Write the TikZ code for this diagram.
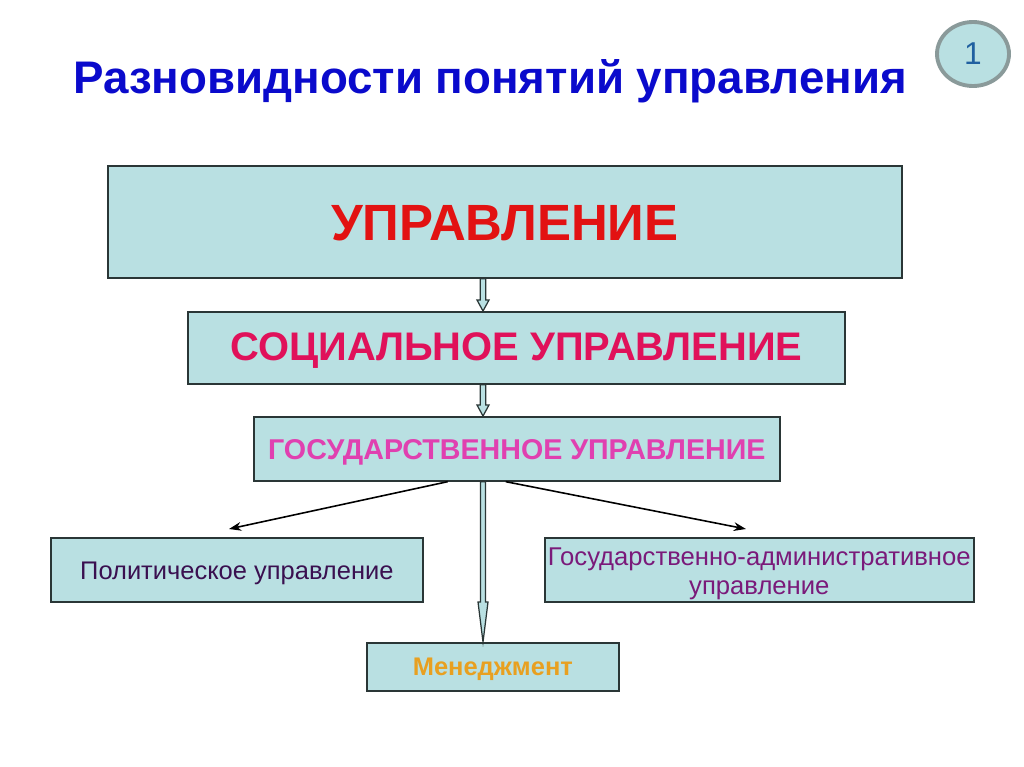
\documentclass[tikz,border=0pt]{standalone}
\usepackage{fontspec}
\setmainfont{Liberation Sans}
\usetikzlibrary{calc,arrows.meta,shapes.geometric}
\definecolor{boxfill}{HTML}{B9E0E2}
\definecolor{boxline}{HTML}{2A3636}
\definecolor{titleblue}{HTML}{0A0ACC}
\definecolor{redA}{HTML}{E21212}
\definecolor{redB}{HTML}{E0115A}
\definecolor{magC}{HTML}{E040B0}
\definecolor{purD}{HTML}{3A1050}
\definecolor{purE}{HTML}{7A1A7A}
\definecolor{orF}{HTML}{E8A020}
\definecolor{circline}{HTML}{8A9A9A}
\definecolor{numblue}{HTML}{2060A0}
\tikzset{
  box/.style={draw=boxline, line width=0.95pt, fill=boxfill, inner sep=0pt, anchor=north west},
  thinarrow/.style={line width=0.9pt, -{Stealth[length=7pt,width=5pt]}},
  hollow/.style={draw=boxline, line width=0.7pt, fill=boxfill}
}
\newcommand{\blockarr}[5]{% start, end, shaft half, head half, head length
  \path[hollow] ($(#1)+(-#3,0)$) -- ($(#2)+(-#3,-#5)$) -- ($(#2)+(-#4,-#5)$) -- (#2)
    -- ($(#2)+(#4,-#5)$) -- ($(#2)+(#3,-#5)$) -- ($(#1)+(#3,0)$) -- cycle;}
\begin{document}
\begin{tikzpicture}[x=0.02cm,y=-0.02cm]
\useasboundingbox (0,0) rectangle (1024,767);
\fill[white] (0,0) rectangle (1024,767);
% title
\node[text=titleblue, font=\bfseries\fontsize{26}{30}\selectfont] (title) at (490,81) {Разновидности понятий управления};
% number circle
\node[draw=circline, line width=2.2pt, fill=boxfill, ellipse, minimum width=72*0.02cm, minimum height=64*0.02cm, inner sep=0pt, text=numblue, font=\fontsize{18}{20}\selectfont] (num) at (973,54) {1};
% boxes
\node[box, minimum width=794*0.02cm, minimum height=112*0.02cm] (b1) at (107,165) {};
\node[text=redA, font=\bfseries\fontsize{29}{34}\selectfont] (t1) at ($(b1.center)+(0,1)$) {УПРАВЛЕНИЕ};
\node[box, minimum width=657*0.02cm, minimum height=72*0.02cm] (b2) at (187,311) {};
\node[text=redB, font=\bfseries\fontsize{22.7}{27}\selectfont] (t2) at ($(b2.center)+(0,3)$) {СОЦИАЛЬНОЕ УПРАВЛЕНИЕ};
\node[box, minimum width=526*0.02cm, minimum height=64*0.02cm] (b3) at (253,416) {};
\node[text=magC, font=\bfseries\fontsize{16.3}{19}\selectfont] (t3) at ($(b3.center)+(0,4)$) {ГОСУДАРСТВЕННОЕ УПРАВЛЕНИЕ};
\node[box, minimum width=372*0.02cm, minimum height=64*0.02cm] (b4) at (50,537) {};
\node[text=purD, font=\fontsize{14.5}{17}\selectfont] (t4) at ($(b4.center)+(0,4)$) {Политическое управление};
\node[box, minimum width=429*0.02cm, minimum height=64*0.02cm] (b5) at (544,537) {};
\node[text=purE, font=\fontsize{14.6}{17}\selectfont, align=center] (t5) at ($(b5.center)+(0,4)$) {Государственно-административное\\управление};
\node[box, minimum width=252*0.02cm, minimum height=48*0.02cm] (b6) at (366,642) {};
\node[text=orF, font=\bfseries\fontsize{14.5}{17}\selectfont] (t6) at ($(b6.center)+(0,2)$) {Менеджмент};
% connectors
\coordinate (ax) at (483,0);
\coordinate (s1) at (b1.south -| ax);
\coordinate (e1) at (b2.north -| ax);
\coordinate (s2) at (b2.south -| ax);
\coordinate (e2) at (b3.north -| ax);
\coordinate (s3) at (b3.south -| ax);
\coordinate (e3) at (b6.north -| ax);
\blockarr{s1}{e1}{2.7}{6}{11}
\blockarr{s2}{e2}{2.7}{6}{11}
\blockarr{s3}{e3}{2.5}{5}{40}
\coordinate (l0) at ($(b3.south west)!0.369!(b3.south east)$);
\coordinate (r0) at ($(b3.south west)!0.479!(b3.south east)$);
\coordinate (lt) at (229,529);
\coordinate (rt) at (746,529);
\draw[thinarrow] (l0) -- (lt);
\draw[thinarrow] (r0) -- (rt);
\end{tikzpicture}
\end{document}
